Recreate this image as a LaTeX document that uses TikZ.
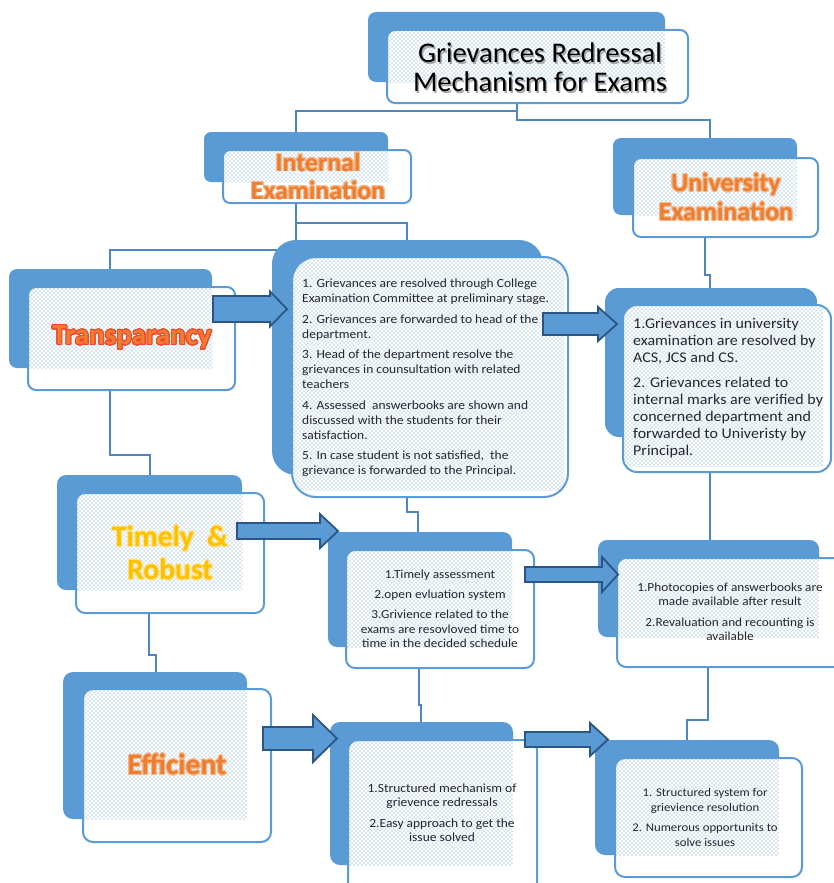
\documentclass[tikz,border=0pt]{standalone}
\usepackage{fontspec}
\setmainfont{Carlito}
\newfontfamily\bodyfont[FakeStretch=1.08]{Carlito}
\usepackage{contour}
\contourlength{0.9pt}
\usetikzlibrary{patterns}
\definecolor{acc}{HTML}{5B9BD5}
\definecolor{accdk}{HTML}{2B5683}
\definecolor{conncol}{HTML}{4F86C0}
\definecolor{dotc}{HTML}{5B9BD5}
\definecolor{orng}{HTML}{ED7D31}
\definecolor{orngl}{HTML}{F6B98A}
\definecolor{redl}{HTML}{F2472A}
\definecolor{gold}{HTML}{FFC000}
\definecolor{goldl}{HTML}{FFE38A}
\pgfdeclarepatternformonly{bigdots}{\pgfqpoint{-1pt}{-1pt}}{\pgfqpoint{4pt}{4pt}}{\pgfqpoint{4pt}{4pt}}{%
  \pgfpathcircle{\pgfqpoint{0pt}{0pt}}{0.66pt}%
  \pgfpathcircle{\pgfqpoint{2pt}{2pt}}{0.66pt}%
  \pgfusepath{fill}}
\tikzset{
  conn/.style={conncol, line width=2.2pt},
  barrow/.style={fill=acc, draw=accdk, line width=1.8pt, line join=miter},
  headtxt/.style={font=\bfseries\fontsize{26}{28}\selectfont, text=orng, align=center, inner sep=0pt},
  bodytxt/.style={font=\bodyfont\fontsize{12.5}{15}\selectfont, text=black!85, inner sep=0pt},
}
\newcommand\outl[2]{\contour[32]{#1}{#2}}
% back x1 y1 x2 y2, front x1 y1 x2 y2, radius
\newcommand\accbox[9]{%
  \fill[acc, rounded corners=#9] (#1,#2) rectangle (#3,#4);
  \fill[white, rounded corners=#9] (#5,#6) rectangle (#7,#8);
  \begin{scope}
    \clip[rounded corners=#9] (#5,#6) rectangle (#7,#8);
    \fill[pattern=bigdots, pattern color=dotc] (#1,#2) rectangle (#3,#4);
  \end{scope}
  \draw[acc, line width=2pt, rounded corners=#9] (#5,#6) rectangle (#7,#8);
}
% start, head base, tip, y centre, shaft half, head half
\newcommand\blockarrow[6]{%
  \draw[barrow] (#1,#4-#5) -- (#2,#4-#5) -- (#2,#4-#6) -- (#3,#4) -- (#2,#4+#6) -- (#2,#4+#5) -- (#1,#4+#5) -- cycle;
}
\begin{document}
\begin{tikzpicture}[x=1pt,y=-1pt]
\useasboundingbox (0,0) rectangle (834,883);

% ---------- connectors ----------
\coordinate (tb) at (517,103);
\coordinate (ieT) at (296,132);
\coordinate (ueT) at (710,138);
\coordinate (ieB) at (296,203);
\coordinate (bigT) at (407,240);
\coordinate (trT) at (110,269);
\coordinate (trB) at (110,390);
\coordinate (tiT) at (150,475);
\coordinate (tiB) at (149,613);
\coordinate (efT) at (156,672);
\coordinate (bigB) at (407,497);
\coordinate (tbxT) at (418,532);
\coordinate (tbxB) at (419,668);
\coordinate (sbxT) at (421,722);
\coordinate (ueB) at (705,237);
\coordinate (uxT) at (710,288);
\coordinate (uxB) at (710,472);
\coordinate (phT) at (710,540);
\coordinate (phB) at (708,667);
\coordinate (ssT) at (687,740);

\draw[conn] (tb) |- (296,111) -- (ieT);
\draw[conn] (tb) |- (710,120) -- (ueT);
\draw[conn] (ieB) |- (407,223) -- (bigT);
\draw[conn] (ieB) -- (296,250) -| (trT);
\draw[conn] (trB) |- (150,455) -- (tiT);
\draw[conn] (tiB) |- (156,655) -- (efT);
\draw[conn] (bigB) |- (418,512) -- (tbxT);
\draw[conn] (tbxB) |- (421,705) -- (sbxT);
\draw[conn] (ueB) |- (710,275) -- (uxT);
\draw[conn] (uxB) -- (phT);
\draw[conn] (phB) |- (687,720) -- (ssT);

% ---------- boxes ----------
\accbox{368}{12}{665}{82}{387}{30}{688}{103}{8}
\accbox{204}{132}{388}{182}{223}{150}{411}{203}{7}
\accbox{613}{138}{797}{215}{633}{158}{818}{237}{8}
\accbox{9}{269}{212}{368}{28}{287}{235}{390}{8}
% big box (dots extend further)
\fill[acc, rounded corners=24] (272,240) rectangle (543,475);
\fill[white, rounded corners=24] (292,257) rectangle (568,497);
\begin{scope}
  \clip[rounded corners=24] (292,257) rectangle (568,497);
  \fill[pattern=bigdots, pattern color=dotc] (272,240) rectangle (564,490);
\end{scope}
\draw[acc, line width=2pt, rounded corners=24] (292,257) rectangle (568,497);
% university text box
\fill[acc, rounded corners=14] (605,288) rectangle (817,437);
\fill[white, rounded corners=14] (623,305) rectangle (831,472);
\begin{scope}
  \clip[rounded corners=14] (623,305) rectangle (831,472);
  \fill[pattern=bigdots, pattern color=dotc] (605,288) rectangle (823,466);
\end{scope}
\draw[acc, line width=2pt, rounded corners=14] (623,305) rectangle (831,472);

\accbox{57}{475}{242}{590}{76}{493}{264}{613}{9}
\accbox{328}{532}{512}{647}{346}{550}{534}{668}{9}
\accbox{598}{540}{819}{637}{617}{558}{845}{667}{9}
\accbox{63}{672}{247}{819}{83}{689}{271}{842}{10}
\accbox{330}{722}{513}{865}{348}{740}{537}{895}{10}
\accbox{595}{740}{779}{855}{615}{758}{802}{877}{10}

% ---------- block arrows ----------
\blockarrow{213}{270}{287}{309}{13}{17.5}
\blockarrow{543}{598}{617}{324}{11}{17}
\blockarrow{237}{320}{338}{531}{8}{17}
\blockarrow{525}{602}{618}{574.5}{7.5}{17.5}
\blockarrow{263}{313}{337}{738.5}{11.5}{23.5}
\blockarrow{525}{590}{608}{739.5}{7.5}{16.5}

% ---------- texts ----------
\node[font=\fontsize{28.5}{29}\selectfont, align=center, inner sep=0pt, text=black!35] (titleshadow) at (541.5,69)
  {Grievances Redressal\\Mechanism for Exams};
\node[font=\fontsize{28.5}{29}\selectfont, align=center, inner sep=0pt] (title) at (540,67.5)
  {Grievances Redressal\\Mechanism for Exams};
\node[headtxt] (intex) at (318,176.5) {\outl{orngl}{Internal}\\\outl{orngl}{Examination}};
\node[headtxt, font=\bfseries\fontsize{26}{29}\selectfont] (univex) at (726,197.5) {\outl{orngl}{University}\\\outl{orngl}{Examination}};
\node[headtxt, font=\bfseries\fontsize{29}{30}\selectfont] (transp) at (132,338) {\outl{redl}{Transparancy}};
\node[headtxt, text=gold, font=\bfseries\fontsize{29.5}{33}\selectfont] (timely) at (170,553.5) {\outl{goldl}{Timely~~\&}\\\outl{goldl}{Robust}};
\node[headtxt, font=\bfseries\fontsize{29.5}{30}\selectfont] (effic) at (177,765) {\outl{orngl}{Efficient}};

\node[bodytxt, align=left, anchor=west] (intlist) at (302,378)
  {1. Grievances are resolved through College\\
   Examination Committee at preliminary stage.\\[5.5pt]
   2. Grievances are forwarded to head of the\\
   department.\\[5.5pt]
   3. Head of the department resolve the\\
   grievances in counsultation with related\\
   teachers\\[5.5pt]
   4. Assessed~ answerbooks are shown and\\
   discussed with the students for their\\
   satisfaction.\\[5.5pt]
   5. In case student is not satisfied,~ the\\
   grievance is forwarded to the Principal.};

\node[bodytxt, align=left, anchor=west, font=\bodyfont\fontsize{14.8}{17}\selectfont] (unilist) at (633,388)
  {1.Grievances in university\\
   examination are resolved by\\
   ACS, JCS and CS.\\[8pt]
   2. Grievances related to\\
   internal marks are verified by\\
   concerned department and\\
   forwarded to Univeristy by\\
   Principal.};

\node[bodytxt, align=center, font=\bodyfont\fontsize{12.3}{14.5}\selectfont] (timlist) at (440,609)
  {1.Timely assessment\\[5.5pt]
   2.open evluation system\\[6pt]
   3.Grivience related to the\\
   exams are resovloved time to\\
   time in the decided schedule};

\node[bodytxt, align=center, font=\bodyfont\fontsize{12.3}{14}\selectfont] (photlist) at (730,612)
  {1.Photocopies of answerbooks are\\
   made available after result\\[7pt]
   2.Revaluation and recounting is\\
   available};

\node[bodytxt, align=center, font=\bodyfont\fontsize{12.5}{14.5}\selectfont] (struclist) at (442,812.5)
  {1.Structured mechanism of\\
   grievence redressals\\[6pt]
   2.Easy approach to get the\\
   issue solved};

\node[bodytxt, align=center, font=\bodyfont\fontsize{11.8}{14.5}\selectfont] (syslist) at (705,817.5)
  {1. Structured system for\\
   grievience resolution\\[6pt]
   2. Numerous opportunits to\\
   solve issues};
\end{tikzpicture}
\end{document}
